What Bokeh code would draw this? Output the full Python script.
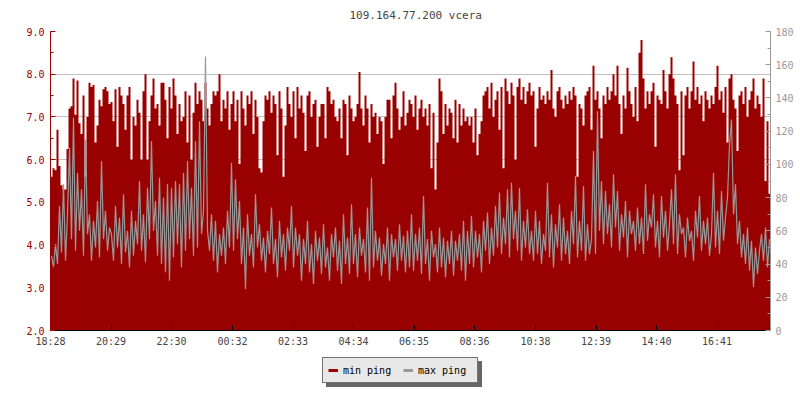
from bokeh.plotting import figure
from bokeh.layouts import column
from bokeh.models import (Range1d, LinearAxis, FixedTicker, SingleIntervalTicker,
                          PrintfTickFormatter, Legend, LegendItem, ColumnDataSource)
from bokeh.embed import file_html
from bokeh.resources import INLINE

title_text = "109.164.77.200 vcera"
start_label = "18:28"
tick_labels = ["18:28", "20:29", "22:30", "00:32", "02:33", "04:34",
               "06:35", "08:36", "10:38", "12:39", "14:40", "16:41"]
step_minutes = 4
series_names = ["min ping", "max ping"]

# min ping (left axis, ms) - one value per 4 minutes
min_ping = [
    5.6, 5.8, 5.75, 6.7, 5.85, 5.4, 5.3, 5.3, 6.25, 7.2, 7.25, 7.9, 7.05, 7.85, 6.85, 6.6, 7.5, 5.6, 7.0, 7.8,
    7.7, 7.75, 6.4, 6.8, 7.4, 7.25, 7.65, 7.7, 7.6, 7.3,
    7.35, 6.9, 7.65, 6.3, 7.7, 7.5, 7.3, 6.7, 7.5, 7.7, 6.0, 7.0, 6.8, 7.4, 7.1, 6.0, 7.6, 8.0, 6.0, 6.9,
    7.5, 7.9, 7.2, 7.3, 6.8, 7.8, 7.8, 7.4, 6.5, 7.7,
    7.2, 7.9, 7.5, 6.6, 7.3, 6.9, 7.0, 7.6, 6.4, 7.5, 6.0, 7.1, 7.8, 7.3, 7.6, 7.4, 6.9, 7.8, 7.2, 6.8,
    7.3, 7.6, 7.5, 7.6, 8.0, 6.9, 7.4, 7.2, 7.6, 6.7,
    7.3, 7.6, 6.9, 7.4, 5.9, 7.6, 7.2, 6.8, 7.5, 7.3, 7.6, 6.6, 7.4, 7.0, 5.8, 5.7, 6.9, 7.5, 7.4, 7.6,
    7.1, 7.5, 7.3, 6.1, 7.6, 7.2, 5.6, 6.8, 7.7, 7.3,
    7.0, 7.6, 6.5, 7.7, 7.2, 7.5, 7.1, 6.2, 7.5, 7.6, 7.0, 7.3, 7.4, 6.3, 7.0, 7.3, 7.3, 6.5, 7.7, 7.6,
    7.3, 7.4, 7.0, 6.9, 7.2, 6.5, 7.4, 7.3, 6.1, 7.5,
    7.2, 6.9, 7.0, 7.3, 8.05, 7.2, 6.8, 7.5, 7.2, 6.4, 7.3, 7.0, 7.1, 6.6, 7.0, 6.9, 5.9, 7.0, 7.4, 7.4,
    6.5, 7.5, 7.8, 7.2, 6.7, 7.0, 7.6, 6.8, 7.1, 7.4,
    7.3, 7.0, 7.5, 6.7, 7.2, 7.4, 7.0, 7.2, 6.8, 7.3, 5.8, 7.1, 5.3, 6.4, 7.9, 7.6, 6.6, 7.3, 6.8, 7.2,
    7.1, 6.5, 7.4, 6.4, 7.3, 6.8, 7.2, 6.9, 7.0, 6.8,
    7.0, 6.4, 7.2, 6.1, 6.6, 6.9, 7.5, 7.6, 7.7, 7.2, 7.8, 7.0, 7.4, 7.6, 6.7, 7.7, 5.8, 7.9, 7.6, 7.3,
    7.8, 7.5, 6.0, 7.7, 7.9, 7.4, 7.7, 7.3, 7.6, 7.8,
    7.5, 7.6, 6.3, 7.2, 7.7, 7.4, 7.5, 7.3, 7.6, 7.4, 8.1, 7.2, 7.0, 7.6, 7.7, 7.4, 7.2, 7.5, 7.3, 7.6,
    7.4, 7.7, 7.5, 5.6, 7.3, 7.2, 6.8, 7.5, 7.6, 7.7,
    6.7, 8.2, 7.4, 7.6, 7.2, 6.5, 7.5, 7.3, 7.7, 7.4, 7.6, 8.0, 7.5, 8.2, 7.3, 6.6, 7.5, 7.2, 8.15, 7.6,
    7.3, 7.0, 7.7, 6.9, 8.5, 8.8, 7.9, 7.2, 7.6, 7.3,
    7.6, 7.8, 6.3, 7.5, 7.4, 7.3, 8.1, 7.6, 7.2, 8.0, 8.4, 7.9, 7.5, 7.3, 5.75, 7.6, 6.1, 7.5, 7.7, 7.2,
    7.6, 8.3, 7.4, 7.7, 7.3, 7.5, 6.9, 7.6, 7.4, 7.2,
    7.5, 7.3, 7.7, 8.2, 7.4, 7.6, 7.1, 7.7, 6.4, 7.9, 8.0, 7.4, 7.2, 6.2, 7.5, 7.6, 7.3, 7.7, 7.0, 7.4,
    7.6, 7.9, 7.2, 7.5, 7.3, 7.0, 7.9, 5.5, 6.9, 5.2,
]

# max ping (right axis, ms) - one value per 4 minutes
max_ping = [
    45, 38, 52, 40, 75, 47, 88, 42, 70, 110, 55, 128, 48, 95, 60, 85, 45, 115, 58, 70,
    42, 66, 50, 78, 44, 102, 55, 72, 48, 62,
    58, 42, 75, 50, 68, 40, 82, 47, 60, 38, 72, 45, 66, 52, 90, 48, 70, 41, 86, 55,
    114, 60, 78, 45, 92, 40, 80, 35, 88, 30,
    86, 44, 90, 52, 88, 38, 95, 48, 102, 55, 86, 45, 114, 50, 126, 58, 72, 165, 60, 48,
    70, 42, 66, 35, 58, 45, 62, 40, 72, 50,
    101, 48, 91, 55, 78, 40, 62, 25, 70, 45, 58, 38, 82, 50, 64, 42, 56, 35, 60, 46,
    74, 40, 55, 32, 66, 44, 58, 36, 62, 48,
    75, 38, 62, 45, 58, 30, 55, 40, 66, 35, 52, 28, 60, 42, 56, 34, 64, 38, 50, 30,
    58, 44, 62, 36, 54, 28, 70, 40, 56, 34,
    76, 40, 58, 32, 62, 45, 55, 35, 74, 30, 92, 38, 60, 42, 56, 33, 52, 40, 62, 30,
    58, 44, 55, 36, 64, 42, 57, 35, 60, 38,
    70, 36, 58, 42, 62, 34, 81, 40, 55, 30, 60, 44, 52, 35, 62, 38, 56, 32, 54, 40,
    60, 33, 54, 42, 58, 36, 66, 30, 60, 40,
    69, 38, 60, 44, 58, 35, 66, 48, 71, 40, 62, 45, 75, 50, 83, 46, 68, 52, 85, 44,
    89, 55, 72, 48, 86, 42, 66, 50, 73, 46,
    60, 42, 72, 46, 66, 40, 58, 48, 89, 44, 70, 38, 64, 50, 76, 42, 68, 46, 60, 40,
    72, 52, 93, 44, 66, 48, 87, 42, 64, 46,
    55, 108, 46, 132, 60, 90, 52, 84, 58, 76, 50, 94, 62, 84, 48, 70, 56, 78, 44, 72,
    58, 66, 48, 74, 52, 68, 46, 88, 54, 70,
    62, 82, 50, 66, 44, 81, 56, 72, 48, 64, 85, 52, 94, 46, 70, 58, 62, 44, 68, 54,
    60, 42, 72, 56, 81, 48, 66, 52, 68, 45,
    58, 95, 50, 72, 46, 84, 54, 68, 80, 112, 127, 70, 88, 52, 66, 44, 58, 40, 62, 36,
    54, 26, 50, 34, 48, 58, 42, 62, 38, 55,
]

RED = "#990000"
GRAY = "#999999"
FONT = "DejaVu Sans Mono"


def minute_of_day(lbl):
    h, m = lbl.split(":")
    return int(h) * 60 + int(m)


start_min = minute_of_day(start_label)
tick_pos = [(minute_of_day(l) - start_min) % 1440 for l in tick_labels]
n = len(min_ping)
total = step_minutes * n
t_mid = [step_minutes * (i + 0.5) for i in range(n)]
t_edge = [step_minutes * i for i in range(n + 1)]

area_src = ColumnDataSource(dict(t=t_edge, y=min_ping + [min_ping[-1]]))
line_src = ColumnDataSource(dict(t=t_mid, y=max_ping))

p = figure(width=800, height=350, output_backend="svg", toolbar_location=None,
           x_range=Range1d(0, total), y_range=Range1d(2, 9),
           min_border_left=50, min_border_right=30, min_border_top=30, min_border_bottom=20)
p.extra_y_ranges = {"right": Range1d(0, 180)}
p.outline_line_color = None

p.title.text = title_text
p.title.align = "left"
p.title.offset = 299
p.title.vertical_align = "top"
p.title.text_font = FONT
p.title.text_font_size = "11px"
p.title.text_font_style = "normal"
p.title.standoff = 16

p.varea_step(x="t", y1=2, y2="y", step_mode="after", source=area_src, fill_color=RED)
p.line(x="t", y="y", source=line_src, y_range_name="right",
       line_color=GRAY, line_width=1.2)

# left axis
ly = p.left[0]
ly.ticker = SingleIntervalTicker(interval=1, num_minor_ticks=2)
ly.formatter = PrintfTickFormatter(format="%.1f")
ly.axis_line_color = RED
ly.major_tick_line_color = RED
ly.minor_tick_line_color = RED
ly.major_tick_in = 5
ly.major_tick_out = 0
ly.minor_tick_in = 3
ly.minor_tick_out = 0
ly.major_label_text_color = RED
ly.major_label_text_font = FONT
ly.major_label_text_font_size = "10px"
ly.major_label_standoff = 6

# right axis
ry = LinearAxis(y_range_name="right",
                ticker=SingleIntervalTicker(interval=20, num_minor_ticks=2))
ry.axis_line_color = GRAY
ry.major_tick_line_color = GRAY
ry.minor_tick_line_color = GRAY
ry.major_tick_in = 5
ry.major_tick_out = 0
ry.minor_tick_in = 3
ry.minor_tick_out = 0
ry.major_label_text_color = GRAY
ry.major_label_text_font = FONT
ry.major_label_text_font_size = "10px"
ry.major_label_standoff = 5
p.add_layout(ry, "right")

# bottom axis
bx = p.below[0]
bx.ticker = FixedTicker(ticks=tick_pos)
bx.major_label_overrides = {pos: lbl for pos, lbl in zip(tick_pos, tick_labels)}
bx.axis_line_color = "black"
bx.major_tick_line_color = "black"
bx.major_tick_in = 5
bx.major_tick_out = 0
bx.minor_tick_line_color = None
bx.major_label_text_font = FONT
bx.major_label_text_font_size = "10px"
bx.major_label_standoff = 5

p.xgrid.grid_line_color = None
p.ygrid.grid_line_color = "#c0c0c0"
p.ygrid.ticker = SingleIntervalTicker(interval=1)

# legend strip below the chart (frame is aligned with the chart's frame)
lf = figure(width=800, height=50, output_backend="svg", toolbar_location=None,
            x_range=Range1d(0, 1), y_range=Range1d(0, 1),
            x_axis_location=None, y_axis_location=None,
            min_border_left=0, min_border_right=0, min_border_top=0, min_border_bottom=0)
lf.outline_line_color = None
lf.grid.grid_line_color = None
leg_min = lf.line(x=[-1], y=[-1], line_color=RED, line_width=3)
leg_max = lf.line(x=[-1], y=[-1], line_color=GRAY, line_width=3)
items = [LegendItem(label=series_names[0], renderers=[leg_min]),
         LegendItem(label=series_names[1], renderers=[leg_max])]
shadow_items = [LegendItem(label=" ", renderers=[leg_min]),
                LegendItem(label=" ", renderers=[leg_max])]


def make_legend(its, loc, bg, border, txt):
    return Legend(items=its, location=loc, orientation="horizontal",
                  background_fill_color=bg, background_fill_alpha=1.0,
                  border_line_color=border, border_line_width=1,
                  label_text_color=txt, label_text_font=FONT, label_text_font_size="10px",
                  glyph_width=10, glyph_height=14, label_height=14, label_width=54,
                  label_standoff=5, spacing=6, padding=5, margin=0)


lf.add_layout(make_legend(shadow_items, (276, 13), "#666666", "#666666", "#666666"), "center")
lf.add_layout(make_legend(items, (272, 17), "#e8e8e8", "black", "black"), "center")

layout = column(p, lf, spacing=0)
open("out.html", "w").write(file_html(layout, INLINE))
